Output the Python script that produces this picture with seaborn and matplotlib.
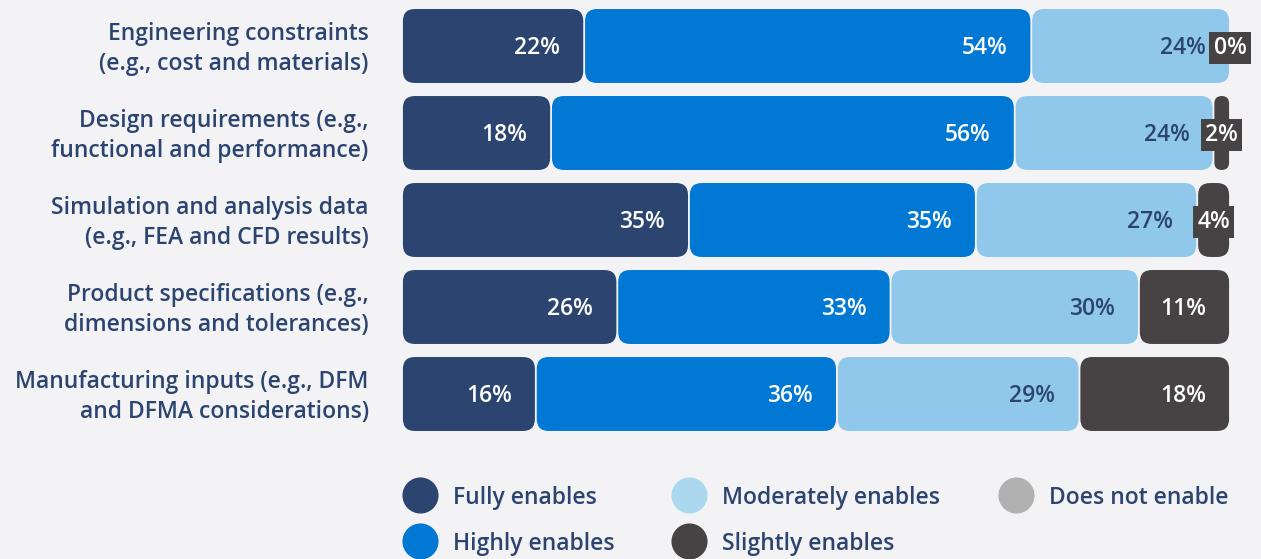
import numpy as np
import seaborn as sns
import matplotlib.pyplot as plt
from matplotlib.patches import FancyBboxPatch
from matplotlib.lines import Line2D
from matplotlib.transforms import ScaledTranslation

categories = [
    "Engineering constraints\n(e.g., cost and materials)",
    "Design requirements (e.g.,\nfunctional and performance)",
    "Simulation and analysis data\n(e.g., FEA and CFD results)",
    "Product specifications (e.g.,\ndimensions and tolerances)",
    "Manufacturing inputs (e.g., DFM\nand DFMA considerations)",
]
series_names = ["Fully enables", "Highly enables", "Moderately enables",
                "Slightly enables", "Does not enable"]
fully = [22, 18, 35, 26, 16]
highly = [54, 56, 35, 33, 36]
moderately = [24, 24, 27, 30, 29]
slightly = [0, 2, 4, 11, 18]
does_not = [0, 0, 0, 0, 0]

BG = "#f3f3f6"
NAVY = "#2b4470"
bar_colors = ["#2b4470", "#0078d4", "#8fc8ea", "#474344", "#b0b1b0"]
legend_colors = ["#2b4470", "#0078d4", "#acd8ef", "#474344", "#b0b1b0"]
text_colors = ["white", "white", NAVY, "white", "white"]

sns.set_theme(style="white", rc={"axes.facecolor": BG, "figure.facecolor": BG})
plt.rcParams["font.family"] = ["Open Sans", "DejaVu Sans"]
FONT = 16.5

W, H = 1261, 559
fig = plt.figure(figsize=(W / 100, H / 100), dpi=100)
ax = fig.add_axes([402 / W, 1 - 437.5 / H, 828 / W, 435 / H])

all_values = [fully, highly, moderately, slightly, does_not]
# rounded percentages do not always add up to 100, bars are drawn as shares of the row
row_total = np.sum(all_values, axis=0)

left = np.zeros(len(categories))
segments = []
for name, vals, col, tcol in zip(series_names, all_values, bar_colors, text_colors):
    if sum(vals) == 0:
        continue
    share = np.array(vals) / row_total * 100
    n_before = len(ax.patches)
    sns.barplot(x=share, y=categories, color=col, orient="h", width=0.85,
                saturation=1, errorbar=None, ax=ax)
    for j, p in enumerate(ax.patches[n_before:]):
        segments.append((p, left[j], share[j], vals[j], col, tcol))
    left = left + share

ax.set_xlim(0, 100)
ax.set_ylim(4.5, -0.5)

# x units -> y units ratio so the corners come out round
px = ax.transData.transform([(0, 0), (1, 1)])
aspect = abs(px[1, 0] - px[0, 0]) / abs(px[1, 1] - px[0, 1])

gap = 0.11
for p, l, s, v, col, tcol in segments:
    y, h = p.get_y(), p.get_height()
    p.remove()
    if s > 0:
        w = s - 2 * gap
        r = min(1.45, w / 2)
        box = FancyBboxPatch((l + gap, y), w, h,
                             boxstyle=f"round,pad=0,rounding_size={r}",
                             mutation_aspect=aspect, fc=col, ec="none")
        ax.add_patch(box)
    yc = y + h / 2 + 0.02
    if v >= 5:
        ax.text(l + s - 2.9, yc, f"{v}%", ha="right", va="center",
                color=tcol, fontsize=FONT, fontweight=600)
    else:
        ax.text(l + s / 2, yc, f"{v}%", ha="center", va="center",
                color="white", fontsize=FONT, fontweight=600, clip_on=False,
                bbox=dict(fc="#474344", ec="none", boxstyle="square,pad=0.18"))

ax.set_xticks([])
ax.set_xlabel("")
ax.set_ylabel("")
ax.tick_params(axis="y", length=0, pad=24)
shift = ScaledTranslation(0, -3 / 100, fig.dpi_scale_trans)
for lbl in ax.get_yticklabels():
    lbl.set_fontsize(FONT)
    lbl.set_fontweight(600)
    lbl.set_color(NAVY)
    lbl.set_linespacing(1.38)
    lbl.set_verticalalignment("center")
    lbl.set_transform(lbl.get_transform() + shift)
sns.despine(ax=ax, left=True, bottom=True)

# legend: three columns placed one by one
handles = [Line2D([], [], ls="", marker="o", ms=26, mfc=c, mec="none")
           for c in legend_colors]
columns = [[0, 1], [2, 3], [4]]
col_x = [401, 670, 997]
for idx, x0 in zip(columns, col_x):
    fig.legend([handles[i] for i in idx], [series_names[i] for i in idx],
               loc="upper left", bbox_to_anchor=(x0 / W, 1 - 485.5 / H),
               frameon=False, prop={"size": FONT, "weight": 600},
               labelcolor=NAVY, handlelength=1.62, handletextpad=0.63,
               labelspacing=0.96, borderpad=0, borderaxespad=0)

fig.savefig("out.png", dpi=100, facecolor=BG)
